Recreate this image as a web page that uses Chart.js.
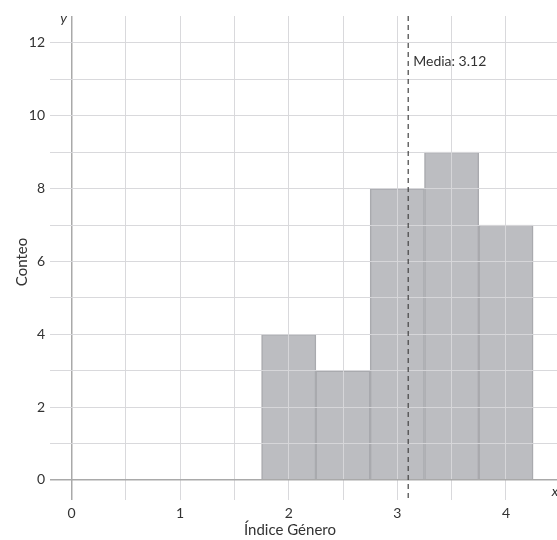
<!DOCTYPE html>
<html>
<head>
<meta charset="utf-8">
<script src="https://cdn.jsdelivr.net/npm/chart.js@4"></script>
<style>
html,body{margin:0;padding:0;background:#fff;}
#wrap{width:557px;height:540px;}
</style>
</head>
<body>
<div id="wrap"><canvas id="c" width="557" height="540"></canvas></div>
<script>
const binCenters = [2, 2.5, 3, 3.5, 4];
const counts = [4, 3, 8, 9, 7];
const meanValue = 3.10;
const meanLabel = 'Media: 3.12';
const xTickValues = [0, 0.5, 1, 1.5, 2, 2.5, 3, 3.5, 4];
const yTickValues = [0, 1, 2, 3, 4, 5, 6, 7, 8, 9, 10, 11, 12];
const xTitle = 'Índice Género';
const yTitle = 'Conteo';

const FONT = 'Lato, "Open Sans", sans-serif';
const gridColor = ctx => (ctx.tick && ctx.tick.value === 0) ? '#a9a9a9' : 'rgba(215,215,218,0.95)';
const gridWidth = ctx => (ctx.tick && ctx.tick.value === 0) ? 1.5 : 1;

const overlay = {
  id: 'overlay',
  afterDraw(chart) {
    const {ctx, chartArea: a, scales: {x, y}} = chart;
    ctx.save();
    const mx = x.getPixelForValue(meanValue);
    ctx.strokeStyle = '#444';
    ctx.lineWidth = 1.2;
    ctx.setLineDash([5, 4]);
    ctx.beginPath();
    ctx.moveTo(mx, a.top);
    ctx.lineTo(mx, a.bottom);
    ctx.stroke();
    ctx.setLineDash([]);
    ctx.fillStyle = '#333';
    ctx.font = '14px ' + FONT;
    ctx.textAlign = 'left';
    ctx.textBaseline = 'middle';
    ctx.fillText(meanLabel, mx + 5, 61);
    ctx.font = 'italic 14px ' + FONT;
    ctx.textAlign = 'center';
    ctx.fillText('y', x.getPixelForValue(0) - 8, 18);
    ctx.fillText('x', a.right - 2, 491);
    ctx.font = '15px ' + FONT;
    ctx.fillText(xTitle, 290, 530);
    ctx.translate(22, 262);
    ctx.rotate(-Math.PI / 2);
    ctx.fillText(yTitle, 0, 0);
    ctx.restore();
  }
};

new Chart(document.getElementById('c'), {
  type: 'bar',
  data: {
    datasets: [{
      data: binCenters.map((c, i) => ({x: c, y: counts[i]})),
      backgroundColor: '#bcbdc1',
      borderColor: '#a9aaae',
      borderWidth: 1.5,
      barPercentage: 1,
      categoryPercentage: 1
    }]
  },
  options: {
    responsive: false,
    animation: false,
    devicePixelRatio: 1,
    layout: {padding: {top: 16, right: 0, left: 0, bottom: 0}},
    plugins: {legend: {display: false}, tooltip: {enabled: false}},
    scales: {
      x: {
        type: 'linear',
        min: -0.198,
        max: 4.47,
        offset: false,
        afterFit(s) { s.height = 40; },
        afterBuildTicks(s) { s.ticks = xTickValues.map(v => ({value: v})); },
        grid: {z: 1, offset: false, drawTicks: false, color: gridColor, lineWidth: gridWidth},
        border: {display: false},
        ticks: {
          padding: 5,
          color: '#333',
          font: {family: FONT, size: 14},
          callback: v => Number.isInteger(v) ? String(v) : ''
        }
      },
      y: {
        type: 'linear',
        min: -0.55,
        max: 12.74,
        afterFit(s) { s.width = 50; },
        afterBuildTicks(s) { s.ticks = yTickValues.map(v => ({value: v})); },
        grid: {z: 1, drawTicks: false, color: gridColor, lineWidth: gridWidth},
        border: {display: false},
        ticks: {
          padding: 5,
          color: '#333',
          font: {family: FONT, size: 14},
          callback: v => (v % 2 === 0) ? String(v) : ''
        }
      }
    }
  },
  plugins: [overlay]
});
</script>
</body>
</html>
